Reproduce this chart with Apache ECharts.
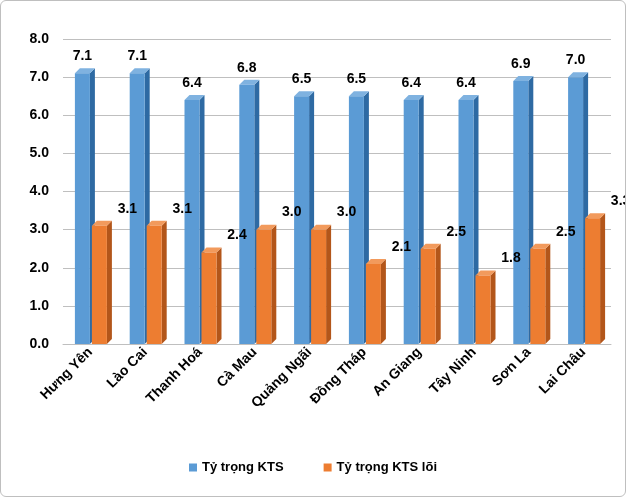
<!DOCTYPE html>
<html>
<head>
<meta charset="utf-8">
<script src="https://cdn.jsdelivr.net/npm/echarts@6/dist/echarts.min.js"></script>
<style>
html,body{margin:0;padding:0;background:#fff;}
#chart{width:624px;height:495px;border:1px solid #bfbfbf;border-radius:6px;}
</style>
</head>
<body>
<div id="chart"></div>
<script>
var provinces = ['Hưng Yên', 'Lào Cai', 'Thanh Hoá', 'Cà Mau', 'Quảng Ngãi', 'Đồng Tháp', 'An Giang', 'Tây Ninh', 'Sơn La', 'Lai Châu'];
var ktsShare = [7.1, 7.1, 6.4, 6.8, 6.5, 6.5, 6.4, 6.4, 6.9, 7.0];
var coreShare = [3.1, 3.1, 2.4, 3.0, 3.0, 2.1, 2.5, 1.8, 2.5, 3.3];

var chart = echarts.init(document.getElementById('chart'));

// 3D-looking bar: front face, darker right side, lighter top
function bar3d(offset, front, side, top, labelDx) {
    return function (params, api) {
        var idx = api.value(0);
        var val = api.value(1);
        var base = api.coord([idx, 0]);
        var tip = api.coord([idx, val]);
        var w = 15, d = 5;
        var x0 = base[0] + offset - w / 2, x1 = x0 + w;
        var y0 = base[1], y1 = tip[1];
        return {
            type: 'group',
            children: [
                { type: 'polygon', shape: { points: [[x1, y0], [x1 + d, y0 - d], [x1 + d, y1 - d], [x1, y1]] }, style: { fill: side } },
                { type: 'polygon', shape: { points: [[x0, y1], [x0 + d, y1 - d], [x1 + d, y1 - d], [x1, y1]] }, style: { fill: top } },
                { type: 'rect', shape: { x: x0, y: y1, width: w, height: y0 - y1 }, style: { fill: front } },
                { type: 'text', style: { text: val.toFixed(1), x: (x0 + x1) / 2 + labelDx, y: y1 - 10, align: 'center', verticalAlign: 'bottom', font: 'bold 14px Arial', fill: '#000' } }
            ]
        };
    };
}

chart.setOption({
    animation: false,
    grid: { left: 62, right: 14, top: 38, bottom: 152 },
    legend: {
        bottom: 17,
        itemWidth: 8, itemHeight: 8, itemGap: 40,
        textStyle: { fontFamily: 'Arial', fontWeight: 'bold', fontSize: 13, color: '#000' },
        data: [
            { name: 'Tỷ trọng KTS', icon: 'rect', itemStyle: { color: '#5b9bd5' } },
            { name: 'Tỷ trọng KTS lõi', icon: 'rect', itemStyle: { color: '#ed7d31' } }
        ]
    },
    xAxis: {
        type: 'category',
        data: provinces,
        axisTick: { show: false },
        axisLine: { lineStyle: { color: '#bfbfbf' } },
        axisLabel: { rotate: 45, interval: 0, color: '#000', fontFamily: 'Arial', fontWeight: 'bold', fontSize: 14, margin: 6 }
    },
    yAxis: {
        type: 'value',
        min: 0, max: 8, interval: 1,
        axisLine: { show: false },
        axisTick: { show: false },
        splitLine: { lineStyle: { color: '#bfbfbf' } },
        axisLabel: { formatter: function (v) { return v.toFixed(1); }, color: '#000', fontFamily: 'Arial', fontWeight: 'bold', fontSize: 14, margin: 14 }
    },
    series: [
        {
            name: 'Tỷ trọng KTS', type: 'custom',
            renderItem: bar3d(-8, '#5b9bd5', '#2e6aa3', '#7fb2e0', 0),
            encode: { x: 0, y: 1 },
            itemStyle: { color: '#5b9bd5' },
            data: ktsShare.map(function (v, i) { return [i, v]; })
        },
        {
            name: 'Tỷ trọng KTS lõi', type: 'custom',
            renderItem: bar3d(9, '#ed7d31', '#b3561a', '#f29a5c', 28),
            encode: { x: 0, y: 1 },
            itemStyle: { color: '#ed7d31' },
            data: coreShare.map(function (v, i) { return [i, v]; })
        }
    ]
});
</script>
</body>
</html>
